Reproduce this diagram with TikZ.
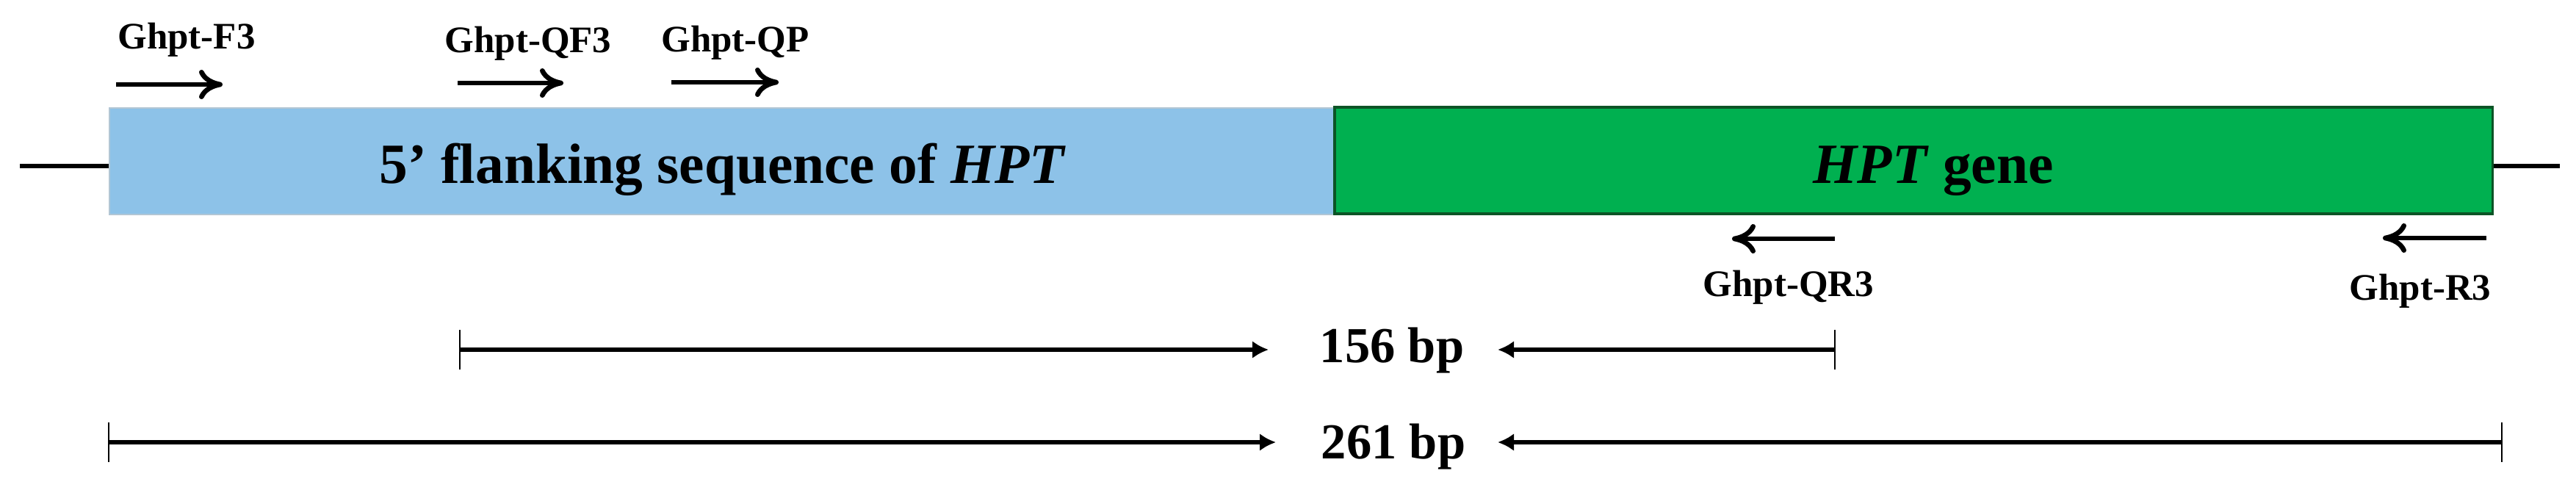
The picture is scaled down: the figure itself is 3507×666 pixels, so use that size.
\documentclass[tikz,border=0pt]{standalone}
\usepackage{fontspec}
\setmainfont{Liberation Serif}
\usepackage{xcolor}
\usetikzlibrary{arrows.meta}

\definecolor{flankblue}{RGB}{141,194,232}
\definecolor{flankedge}{RGB}{178,198,212}
\definecolor{genegreen}{RGB}{0,176,80}
\definecolor{geneedge}{RGB}{12,84,38}

\begin{document}
\begin{tikzpicture}[x=0.01cm, y=0.01cm,
  region/.style={rectangle, minimum height=1.45cm, anchor=south west, inner sep=0pt},
  box label/.style={font=\bfseries\fontsize{22}{26}\selectfont, anchor=base, inner sep=0pt},
  primer/.style={font=\bfseries\fontsize{14.5}{17}\selectfont, anchor=base, inner sep=0pt},
  size label/.style={font=\bfseries\fontsize{19.5}{23}\selectfont, anchor=base, inner sep=0pt},
  backbone/.style={line width=1.9pt},
  primer arrow/.style={line width=1.9pt, -{Computer Modern Rightarrow[length=0.32cm, width=0.4cm]}},
  bar arrow/.style={line width=1.8pt, -{Latex[length=0.22cm, width=0.24cm]}},
  bar end/.style={line width=0.8pt}]
\useasboundingbox (0,0) rectangle (3507,666);

% Flanking region and gene
\node[region, fill=flankblue, draw=flankedge, line width=0.5pt, minimum width=16.67cm] (flank) at (148,373) {};
\node[region, fill=genegreen, draw=geneedge, line width=1pt, minimum width=15.76cm] (gene) at (1815,373) {};
\node[box label] (flanktext) at (984,417) {5’ flanking sequence of \textit{HPT}};
\node[box label] (genetext) at (2632,417) {\textit{HPT} gene};

% Backbone
\coordinate (lineL) at (27,440);
\coordinate (lineR) at (3485,440);
\draw[backbone] (lineL) -- (lineL -| flank.west);
\draw[backbone] (lineR -| gene.east) -- (lineR);

% Forward primers
\coordinate (F3a) at (158,551);
\coordinate (F3b) at (303,551);
\coordinate (QF3a) at (623,553);
\coordinate (QF3b) at (767,553);
\coordinate (QPa) at (914,554);
\coordinate (QPb) at (1060,554);
\draw[primer arrow] (F3a) -- (F3b);
\draw[primer arrow] (QF3a) -- (QF3b);
\draw[primer arrow] (QPa) -- (QPb);
\node[primer] (F3) at (254,599) {Ghpt-F3};
\node[primer] (QF3) at (719,594) {Ghpt-QF3};
\node[primer] (QP) at (1001,596) {Ghpt-QP};

% Reverse primers
\coordinate (QR3a) at (2498,341);
\coordinate (QR3b) at (2358,341);
\coordinate (R3a) at (3385,342);
\coordinate (R3b) at (3244,342);
\draw[primer arrow] (QR3a) -- (QR3b);
\draw[primer arrow] (R3a) -- (R3b);
\node[primer] (QR3) at (2435,263) {Ghpt-QR3};
\node[primer] (R3) at (3295,258) {Ghpt-R3};

% Amplicon sizes
\coordinate (s156L) at (626,190);
\coordinate (s156R) at (2498,190);
\coordinate (t156L) at (1727,190);
\coordinate (t156R) at (2039,190);
\node[size label] (size156) at (1895,173) {156 bp};
\draw[bar end] ([yshift=0.27cm]s156L) -- ([yshift=-0.27cm]s156L);
\draw[bar end] ([yshift=0.27cm]s156R) -- ([yshift=-0.27cm]s156R);
\draw[bar arrow] (s156L) -- (t156L);
\draw[bar arrow] (s156R) -- (t156R);

\coordinate (s261L) at (148,64);
\coordinate (s261R) at (3406,64);
\coordinate (t261L) at (1737,64);
\coordinate (t261R) at (2039,64);
\node[size label] (size261) at (1897,42) {261 bp};
\draw[bar end] ([yshift=0.27cm]s261L) -- ([yshift=-0.27cm]s261L);
\draw[bar end] ([yshift=0.27cm]s261R) -- ([yshift=-0.27cm]s261R);
\draw[bar arrow] (s261L) -- (t261L);
\draw[bar arrow] (s261R) -- (t261R);

\end{tikzpicture}
\end{document}
